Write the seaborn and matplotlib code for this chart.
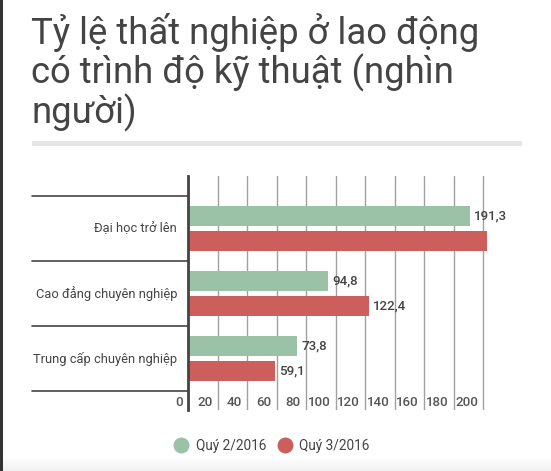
import matplotlib
matplotlib.use("Agg")
import matplotlib.pyplot as plt
import matplotlib.transforms as mtransforms
from matplotlib.lines import Line2D
from matplotlib.patches import Rectangle
import numpy as np
import pandas as pd
import seaborn as sns

# ---- data ----
categories = ["Đại học trở lên", "Cao đẳng chuyên nghiệp", "Trung cấp chuyên nghiệp"]
series_names = ["Quý 2/2016", "Quý 3/2016"]
q2_values = [191.3, 94.8, 73.8]
q3_values = [202.6, 122.4, 59.1]
q3_show_label = [False, True, True]
x_ticks = [0, 20, 40, 60, 80, 100, 120, 140, 160, 180, 200]
title_lines = ["Tỷ lệ thất nghiệp ở lao động", "có trình độ kỹ thuật (nghìn", "người)"]

colors = ["#9bc2a7", "#cc5e5c"]
TXT = "#444444"

sns.set_theme(style="white")
plt.rcParams["font.family"] = ["Roboto", "DejaVu Sans"]

W, H = 551, 471
fig = plt.figure(figsize=(W / 100, H / 100), dpi=100)
fig.patch.set_facecolor("white")

def px_rect(l, t, r, b):
    return [l / W, (H - b) / H, (r - l) / W, (b - t) / H]

ax = fig.add_axes(px_rect(188, 176, 512.5, 410))

df = pd.DataFrame({
    "cat": categories * 2,
    "val": q2_values + q3_values,
    "series": [series_names[0]] * 3 + [series_names[1]] * 3,
})

sns.barplot(data=df, y="cat", x="val", hue="series", orient="h",
            palette=colors, width=0.77, gap=0.213, ax=ax, legend=False,
            saturation=1, edgecolor="none", zorder=3)

ax.set_xlim(0, 220)
ax.set_ylim(2.79, -0.81)
ax.set_xticks(x_ticks)
ax.set_xticklabels([])
ax.set_yticks([])
ax.set_xlabel("")
ax.set_ylabel("")
ax.tick_params(length=0)
ax.grid(axis="x", color="#a0a0a0", linewidth=1, zorder=0)
ax.grid(axis="y", visible=False)
for s in ["top", "right", "bottom"]:
    ax.spines[s].set_visible(False)
ax.spines["left"].set_color("#444444")
ax.spines["left"].set_linewidth(2)
ax.spines["left"].set_zorder(5)

# category separators
trans_b = mtransforms.blended_transform_factory(ax.transAxes, ax.transData)
x0_ax = (32 - 188) / 324.5
for yb in [-0.5, 0.5, 1.5, 2.5]:
    ax.plot([x0_ax, 0], [yb, yb], transform=trans_b, color="#444444",
            linewidth=1.2, clip_on=False, zorder=4)

# category labels
lab_off = mtransforms.ScaledTranslation(-11 / 100, 0, fig.dpi_scale_trans)
for i, c in enumerate(categories):
    ax.text(0, i, c, transform=trans_b + lab_off, ha="right", va="center",
            fontsize=9.3, color=TXT)

# x tick labels inside the plot region
tick_off = mtransforms.ScaledTranslation(-5 / 100, 0, fig.dpi_scale_trans)
for v in x_ticks:
    ax.text(v, 2.667, str(v), transform=ax.transData + tick_off,
            ha="right", va="center", fontsize=9.6, color="#555555",
            fontweight="medium")

# value labels
fmt = lambda v: f"{v:.1f}".replace(".", ",")
containers = ax.containers
ax.bar_label(containers[0], labels=[fmt(v) for v in q2_values], padding=3,
             fontsize=9.6, color=TXT, fontweight="medium")
ax.bar_label(containers[1],
             labels=[fmt(v) if s else "" for v, s in zip(q3_values, q3_show_label)],
             padding=3, fontsize=9.6, color=TXT, fontweight="medium")

# title, line by line at measured baselines
for line, base in zip(title_lines, [44, 83.5, 123]):
    fig.text(31 / W, 1 - base / H, line, ha="left", va="baseline",
             fontsize=26.3, color=TXT)

# gray rule under title
fig.patches.append(Rectangle((32 / W, 1 - 146 / H), (522 - 32) / W, 5 / H,
                             transform=fig.transFigure, color="#e6e6e6",
                             linewidth=0))
# left dark border
fig.patches.append(Rectangle((0, 0), 2.5 / W, 1, transform=fig.transFigure,
                             color="#333333", linewidth=0))
# bottom subtle gradient
for k in range(14):
    a = (k + 1) / 14 * 0.05
    fig.patches.append(Rectangle((2.5 / W, 0), 1, (14 - k) / H,
                                 transform=fig.transFigure, color="#888888",
                                 alpha=0.004 + a * 0.05, linewidth=0))

# legend
handles = [Line2D([0], [0], marker="o", linestyle="none", markersize=11.5,
                  markerfacecolor=c, markeredgecolor="none") for c in colors]
fig.legend(handles, series_names, loc="center", bbox_to_anchor=(272 / W, 1 - 446 / H),
           ncol=2, frameon=False, fontsize=9.8, handletextpad=0.55,
           columnspacing=0.9, handlelength=1.0, labelcolor=TXT)

fig.savefig("out.png", dpi=100)
